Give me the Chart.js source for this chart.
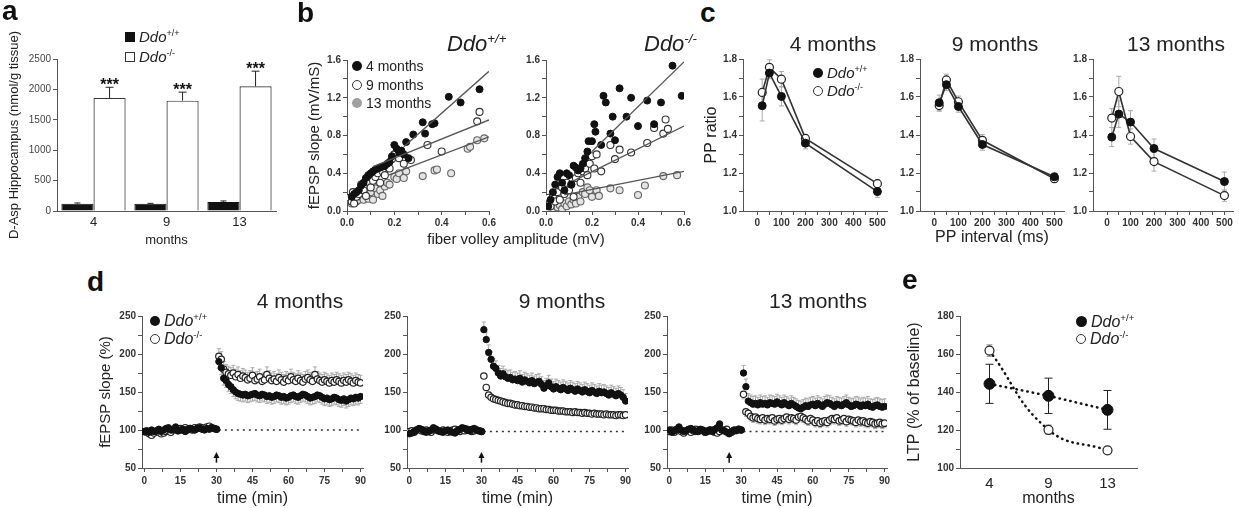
<!DOCTYPE html>
<html>
<head>
<meta charset="utf-8">
<script src="https://cdn.jsdelivr.net/npm/chart.js@4.4.1/dist/chart.umd.min.js"></script>
<style>
  body { margin: 0; background: #fff; }
  #stage { position: relative; width: 1239px; height: 508px; overflow: hidden; font-family: "Liberation Sans", Arial, sans-serif; color: #222; }
  #stage canvas { position: absolute; }
  .txt { position: absolute; white-space: nowrap; line-height: 1; }
  .lbl { font-weight: bold; color: #111; }
  .leg { position: absolute; white-space: nowrap; display: flex; align-items: center; line-height: 1.2; }
  .mk { display: inline-block; box-sizing: border-box; margin-right: 4px; flex: none; }
  sup { font-size: 0.6em; vertical-align: super; line-height: 0; }
</style>
</head>
<body>
<div id="stage"></div>
<script>
// ---- data ----
var ageLabels = ['4', '9', '13'];

// a: D-Asp content
var daspWT = [120, 118, 150];
var daspWTErr = [12, 8, 15];
var daspKO = [1860, 1815, 2050];
var daspKOErr = [175, 140, 250];
var daspStars = ['***', '***', '***'];
var aYTicks = [0, 500, 1000, 1500, 2000, 2500];

// b: input/output, [fiber volley, fEPSP slope]
var bWT4 = [[0.02,0.15],[0.03,0.18],[0.04,0.20],[0.05,0.22],[0.06,0.27],[0.07,0.30],[0.08,0.35],[0.09,0.38],[0.10,0.40],[0.11,0.42],[0.12,0.44],[0.13,0.45],[0.14,0.46],[0.15,0.47],[0.16,0.48],[0.17,0.50],[0.18,0.52],[0.19,0.58],[0.20,0.70],[0.21,0.66],[0.22,0.62],[0.23,0.64],[0.24,0.60],[0.25,0.73],[0.26,0.56],[0.28,0.81],[0.32,0.94],[0.33,0.82],[0.36,0.92],[0.37,0.93],[0.43,1.21],[0.48,1.15],[0.56,1.29]];
var bWT9 = [[0.01,0.14],[0.02,0.10],[0.025,0.20],[0.03,0.08],[0.04,0.15],[0.05,0.18],[0.06,0.28],[0.07,0.22],[0.08,0.16],[0.09,0.30],[0.10,0.25],[0.11,0.32],[0.12,0.36],[0.13,0.40],[0.14,0.30],[0.15,0.42],[0.16,0.38],[0.18,0.45],[0.19,0.55],[0.20,0.60],[0.22,0.56],[0.24,0.50],[0.27,0.54],[0.34,0.70],[0.40,0.63],[0.55,0.95],[0.56,1.05]];
var bWT13 = [[0.01,0.12],[0.02,0.08],[0.03,0.13],[0.04,0.10],[0.05,0.12],[0.06,0.15],[0.07,0.12],[0.08,0.18],[0.09,0.13],[0.10,0.20],[0.11,0.12],[0.12,0.24],[0.13,0.18],[0.14,0.22],[0.15,0.16],[0.16,0.26],[0.17,0.30],[0.18,0.28],[0.20,0.36],[0.21,0.34],[0.22,0.40],[0.24,0.35],[0.25,0.42],[0.32,0.37],[0.37,0.43],[0.38,0.44],[0.44,0.40],[0.51,0.66],[0.52,0.68],[0.55,0.75],[0.58,0.77]];
var bKO4 = [[0.01,0.05],[0.02,0.12],[0.03,0.20],[0.04,0.28],[0.05,0.36],[0.06,0.40],[0.07,0.30],[0.08,0.22],[0.09,0.40],[0.10,0.38],[0.11,0.28],[0.12,0.48],[0.13,0.46],[0.14,0.43],[0.15,0.45],[0.16,0.50],[0.17,0.56],[0.18,0.63],[0.185,0.74],[0.20,0.74],[0.21,0.92],[0.215,0.84],[0.24,0.70],[0.25,1.22],[0.26,1.15],[0.28,0.82],[0.29,1.00],[0.30,0.75],[0.32,1.30],[0.35,1.00],[0.37,1.20],[0.40,0.90],[0.44,1.17],[0.47,0.92],[0.50,1.15],[0.55,1.54],[0.59,1.22]];
var bKO9 = [[0.01,0.14],[0.02,0.05],[0.03,0.15],[0.04,0.10],[0.05,0.20],[0.06,0.12],[0.07,0.25],[0.08,0.18],[0.09,0.30],[0.10,0.22],[0.11,0.28],[0.12,0.15],[0.13,0.35],[0.14,0.40],[0.15,0.30],[0.16,0.42],[0.17,0.45],[0.18,0.38],[0.19,0.50],[0.20,0.58],[0.21,0.45],[0.22,0.60],[0.24,0.42],[0.28,0.70],[0.30,0.55],[0.32,0.65],[0.37,0.62],[0.44,0.72],[0.47,0.88],[0.51,0.82],[0.53,0.87],[0.52,0.97]];
var bKO13 = [[0.01,0.02],[0.02,0.05],[0.03,0.03],[0.04,0.08],[0.05,0.04],[0.06,0.06],[0.07,0.02],[0.08,0.08],[0.09,0.05],[0.10,0.10],[0.11,0.07],[0.12,0.12],[0.13,0.08],[0.14,0.15],[0.15,0.10],[0.16,0.20],[0.17,0.18],[0.18,0.25],[0.19,0.22],[0.20,0.15],[0.22,0.22],[0.23,0.16],[0.28,0.24],[0.32,0.22],[0.40,0.17],[0.43,0.27],[0.51,0.37],[0.57,0.38]];
// regression lines: [x0, y0, x1, y1] for 4, 9, 13 months
var bFitWT = [[0.24, 0.68, 0.60, 1.48], [0.11, 0.47, 0.60, 0.965], [0.175, 0.38, 0.60, 0.785]];
var bFitKO = [[0.20, 0.63, 0.60, 1.58], [0.12, 0.32, 0.60, 0.90], [0.08, 0.17, 0.60, 0.42]];
var bXTicks = [0, 0.1, 0.2, 0.3, 0.4, 0.5, 0.6];
var bYTicks = [0, 0.2, 0.4, 0.6, 0.8, 1.0, 1.2, 1.4, 1.6];

// c: paired-pulse ratio
var ppInterval = [20, 50, 100, 200, 500];
var pp4WT = [1.554, 1.726, 1.603, 1.357, 1.102];
var pp4WTErr = [0.08, 0.03, 0.05, 0.03, 0.03];
var pp4KO = [1.624, 1.756, 1.694, 1.382, 1.144];
var pp4KOErr = [0.07, 0.04, 0.04, 0.02, 0.02];
var pp9WT = [1.57, 1.665, 1.55, 1.35, 1.18];
var pp9WTErr = [0.04, 0.03, 0.03, 0.03, 0.02];
var pp9KO = [1.555, 1.69, 1.575, 1.372, 1.17];
var pp9KOErr = [0.03, 0.03, 0.03, 0.03, 0.02];
var pp13WT = [1.389, 1.51, 1.468, 1.329, 1.155];
var pp13WTErr = [0.05, 0.07, 0.06, 0.05, 0.05];
var pp13KO = [1.489, 1.629, 1.392, 1.26, 1.081];
var pp13KOErr = [0.05, 0.08, 0.04, 0.05, 0.03];
var cXTicks = [0, 50, 100, 150, 200, 250, 300, 350, 400, 450, 500];
var cYTicks = [1.0, 1.1, 1.2, 1.3, 1.4, 1.5, 1.6, 1.7, 1.8];

// d: LTP time course, one value per minute (0..90)
var minutes = [0,1,2,3,4,5,6,7,8,9,10,11,12,13,14,15,16,17,18,19,20,21,22,23,24,25,26,27,28,29,30,
  31,32,33,34,35,36,37,38,39,40,41,42,43,44,45,46,47,48,49,50,51,52,53,54,55,56,57,58,59,60,
  61,62,63,64,65,66,67,68,69,70,71,72,73,74,75,76,77,78,79,80,81,82,83,84,85,86,87,88,89,90];
var ltp4WT = [98,99,97,100,98,99,101,98,100,102,
  103,100,101,104,99,100,101,98,100,102,
  101,100,102,103,101,100,102,101,103,102,
  101,190,182,168,165,160,157,153,150,148,
  147,146,147,145,146,147,148,146,145,147,
  146,144,145,143,144,146,145,143,144,142,
  143,145,146,144,143,145,147,146,144,142,
  143,144,146,145,143,141,142,140,141,143,
  142,140,139,141,138,140,142,141,143,142,
  144];
var ltp4KO = [98,97,95,93,96,98,97,95,96,98,
  99,97,100,101,99,102,100,103,101,102,
  100,103,102,104,103,101,104,105,103,102,
  101,197,193,180,176,174,172,175,170,173,
  168,171,169,166,168,172,165,167,170,164,
  166,173,168,165,167,164,169,166,163,167,
  165,170,166,164,168,165,163,167,169,166,
  164,173,167,165,163,166,164,162,165,163,
  166,164,162,165,163,166,164,162,165,163,
  162];
var ltp9WT = [95,96,98,100,102,101,99,97,98,100,
  103,101,99,98,97,99,100,98,97,96,
  99,101,103,102,100,99,101,102,100,99,
  98,232,219,202,193,184,181,175,171,174,
  170,168,169,166,167,165,168,163,166,164,
  162,165,161,163,164,160,155,158,162,157,
  154,157,155,153,156,154,152,155,153,151,
  154,152,150,153,151,149,152,150,148,151,
  149,150,148,146,149,147,145,148,146,143,
  138];
var ltp9KO = [98,99,97,100,101,99,98,100,99,97,
  100,101,99,98,100,99,97,98,100,101,
  99,98,100,99,101,100,98,99,100,99,
  98,171,156,146,143,141,140,139,138,137,
  136,135,135,134,133,133,132,132,131,131,
  130,130,129,129,128,128,128,127,127,126,
  126,126,125,125,125,124,124,124,123,124,
  123,123,122,123,122,122,121,122,121,121,
  121,120,121,120,120,120,119,120,120,119,
  120];
var ltp13WT = [100,97,99,101,104,100,98,99,101,102,
  100,98,99,101,100,97,99,100,98,101,
  103,108,100,99,97,95,98,100,99,101,
  100,175,157,138,136,134,135,133,136,134,
  135,133,136,135,134,137,135,133,136,134,
  132,135,133,131,129,128,130,132,131,133,
  134,132,135,133,131,134,136,135,133,131,
  134,133,132,134,136,133,131,132,134,133,
  131,133,132,134,131,130,132,133,131,130,
  131];
var ltp13KO = [98,100,97,99,101,98,96,99,100,97,
  99,101,98,100,99,97,98,100,99,97,
  96,98,100,99,101,96,97,99,100,101,
  100,147,124,122,118,116,117,115,114,116,
  113,115,114,116,112,114,115,113,115,117,
  114,116,115,113,117,118,116,114,112,115,
  113,110,112,109,111,112,110,113,115,114,
  116,112,113,115,111,114,113,112,110,113,
  111,112,110,109,111,110,108,109,110,108,
  109];
var tetanusAt = [30, 30, 25];
var baselineRef = [100, 98, 98];
var refSpan = [31, 90];
var dXTicks = [0, 7.5, 15, 22.5, 30, 37.5, 45, 52.5, 60, 67.5, 75, 82.5, 90];
var dYTicks = [50, 75, 100, 125, 150, 175, 200, 225, 250];

// e: LTP magnitude by age
var ltpMeanWT = [144.3, 138.0, 130.6];
var ltpMeanWTErr = [10.3, 9.3, 10.2];
var ltpMeanKO = [161.8, 120.1, 109.3];
var ltpMeanKOErr = [3.0, 2.5, 1.5];
var eYTicks = [100, 110, 120, 130, 140, 150, 160, 170, 180];

// ---- helpers ----
var stage = document.getElementById('stage');
var FONT = '"Liberation Sans", Arial, sans-serif';
var AX = '#555';
Chart.defaults.font.family = FONT;
Chart.defaults.color = '#333';

function frame(area, m) {
    var c = document.createElement('canvas');
    c.width = area.r - area.l + m.l + m.r;
    c.height = area.b - area.t + m.t + m.b;
    c.style.left = (area.l - m.l) + 'px';
    c.style.top = (area.t - m.t) + 'px';
    stage.appendChild(c);
    return c;
}

// force the axis box size so every plot area lands where the figure has it
function fit(size) {
    return function (scale) {
        if (scale.isHorizontal()) scale.height = size; else scale.width = size;
        scale.paddingLeft = scale.paddingRight = scale.paddingTop = scale.paddingBottom = 0;
    };
}

function every(step, digits) {
    return function (v) {
        var k = v / step;
        return Math.abs(k - Math.round(k)) < 1e-6 ? v.toFixed(digits) : '';
    };
}

function axis(o) {
    var a = {
        type: o.type || 'linear',
        afterFit: fit(o.box),
        border: { color: AX, width: 1 },
        grid: { drawOnChartArea: false, drawTicks: o.drawTicks !== false, tickLength: 4, color: AX },
        ticks: {
            color: o.color || '#333', padding: o.pad == null ? 2 : o.pad, autoSkip: false, maxRotation: 0,
            font: { family: FONT, size: o.fontSize || 10, weight: o.bold === false ? 'normal' : 'bold' }
        },
        title: { display: !!o.title, text: o.title || '', color: '#222', padding: 0, font: { family: FONT, size: o.titleSize || 16 } }
    };
    if (o.min != null) a.min = o.min;
    if (o.max != null) a.max = o.max;
    if (o.offset != null) a.offset = o.offset;
    if (o.ticks) a.afterBuildTicks = function (s) { s.ticks = o.ticks.map(function (v) { return { value: v }; }); };
    if (o.label) a.ticks.callback = o.label;
    return a;
}

function options(m, scales, plugins) {
    return {
        responsive: false,
        animation: false,
        events: [],
        layout: { padding: { left: 0, bottom: 0, top: m.t, right: m.r } },
        plugins: Object.assign({ legend: { display: false }, tooltip: { enabled: false } }, plugins || {}),
        scales: scales
    };
}

function xy(xs, ys) {
    return xs.map(function (x, i) { return { x: x, y: ys[i] }; });
}
function pairs(list) {
    return list.map(function (p) { return { x: p[0], y: p[1] }; });
}

function wtStyle(r) {
    return { pointRadius: r, pointBackgroundColor: '#111', pointBorderColor: '#111', pointBorderWidth: 1 };
}
function koStyle(r) {
    return { pointRadius: r, pointBackgroundColor: '#fff', pointBorderColor: '#222', pointBorderWidth: 1.2 };
}

// vertical SEM bars from dataset.err (array or single number)
var errorBars = {
    id: 'errorBars',
    beforeDatasetsDraw: function (chart) {
        var ctx = chart.ctx;
        chart.data.datasets.forEach(function (ds, i) {
            if (ds.err == null) return;
            var meta = chart.getDatasetMeta(i);
            var ys = chart.scales[meta.yAxisID];
            ctx.save();
            ctx.strokeStyle = ds.errColor || '#999';
            ctx.lineWidth = 1;
            meta.data.forEach(function (el, j) {
                if (ds.errFrom && j < ds.errFrom) return;
                var e = Array.isArray(ds.err) ? ds.err[j] : ds.err;
                var raw = ds.data[j];
                var v = typeof raw === 'object' ? raw.y : raw;
                var top = ys.getPixelForValue(v + (ds.errDir === 'down' ? 0 : e));
                var bot = ys.getPixelForValue(v - (ds.errDir === 'up' ? 0 : e));
                var cw = ds.capWidth || 3;
                ctx.beginPath();
                ctx.moveTo(el.x, top); ctx.lineTo(el.x, bot);
                if (ds.errDir !== 'down') { ctx.moveTo(el.x - cw, top); ctx.lineTo(el.x + cw, top); }
                if (ds.errDir !== 'up') { ctx.moveTo(el.x - cw, bot); ctx.lineTo(el.x + cw, bot); }
                ctx.stroke();
            });
            ctx.restore();
        });
    }
};

var stars = {
    id: 'stars',
    afterDatasetsDraw: function (chart, args, o) {
        var ds = chart.data.datasets[o.dataset];
        var meta = chart.getDatasetMeta(o.dataset);
        var ctx = chart.ctx;
        ctx.save();
        ctx.fillStyle = '#111';
        ctx.font = 'bold 16px ' + FONT;
        ctx.textAlign = 'center';
        ctx.textBaseline = 'alphabetic';
        meta.data.forEach(function (el, j) {
            var y = chart.scales.y.getPixelForValue(ds.data[j] + ds.err[j]);
            ctx.fillText(o.labels[j], el.x, y + 3);
        });
        ctx.restore();
    }
};

var tetanusArrow = {
    id: 'tetanus',
    afterDatasetsDraw: function (chart, args, o) {
        var ctx = chart.ctx;
        var x = chart.scales.x.getPixelForValue(o.at);
        var y1 = chart.scales.y.getPixelForValue(57);
        var y2 = chart.scales.y.getPixelForValue(71);
        ctx.save();
        ctx.strokeStyle = '#111';
        ctx.fillStyle = '#111';
        ctx.lineWidth = 1.5;
        ctx.beginPath();
        ctx.moveTo(x, y1); ctx.lineTo(x, y2 + 4);
        ctx.stroke();
        ctx.beginPath();
        ctx.moveTo(x, y2); ctx.lineTo(x - 3, y2 + 6); ctx.lineTo(x + 3, y2 + 6); ctx.closePath();
        ctx.fill();
        ctx.restore();
    }
};

function addText(html, x, base, size, cls, center) {
    var d = document.createElement('div');
    d.className = 'txt ' + (cls || '');
    d.style.fontSize = size + 'px';
    d.style.top = (base - 0.85 * size) + 'px';
    d.style.left = x + 'px';
    if (center) d.style.transform = 'translateX(-50%)';
    d.innerHTML = html;
    stage.appendChild(d);
}

function addLegend(x, cy, mark, html, size, italic) {
    var d = document.createElement('div');
    d.className = 'leg';
    d.style.left = x + 'px';
    d.style.top = (cy - size * 0.6) + 'px';
    d.style.height = (size * 1.2) + 'px';
    d.style.fontSize = size + 'px';
    if (italic) d.style.fontStyle = 'italic';
    d.innerHTML = '<span class="mk" style="' + mark + '"></span><span>' + html + '</span>';
    stage.appendChild(d);
}

var WT = '<i>Ddo</i><sup>+/+</sup>';
var KO = '<i>Ddo</i><sup>-/-</sup>';
var dotWT = 'width:10px;height:10px;border-radius:50%;background:#111';
var dotKO = 'width:10px;height:10px;border-radius:50%;background:#fff;border:1.3px solid #333';

// ---- a: bars ----
var aM = { l: 50, t: 42, r: 8, b: 37 };
new Chart(frame({ l: 57, t: 59, r: 276, b: 211 }, aM), {
    type: 'bar',
    data: {
        labels: ageLabels,
        datasets: [
            { data: daspWT, err: daspWTErr, errDir: 'up', errColor: '#222', capWidth: 3,
              backgroundColor: '#111', borderColor: '#111', borderWidth: 1, categoryPercentage: 0.88, barPercentage: 1 },
            { data: daspKO, err: daspKOErr, errDir: 'up', errColor: '#222', capWidth: 4,
              backgroundColor: '#fff', borderColor: '#333', borderWidth: 1.2, categoryPercentage: 0.88, barPercentage: 1 }
        ]
    },
    options: options(aM, {
        x: axis({ type: 'category', box: aM.b, fontSize: 13, bold: false, drawTicks: false, pad: 4, color: '#222', title: 'months', titleSize: 13 }),
        y: axis({ box: aM.l, min: 0, max: 2500, ticks: aYTicks, fontSize: 10, bold: false, color: '#444',
                  label: function (v) { return String(v); }, title: 'D-Asp Hippocampus (nmol/g tissue)', titleSize: 13 })
    }, { stars: { labels: daspStars, dataset: 1 } }),
    plugins: [errorBars, stars]
});

// ---- b: input/output ----
function ioChart(area, m, s4, s9, s13, fits, yTitle) {
    var lines = fits.map(function (f) {
        return { data: [{ x: f[0], y: f[1] }, { x: f[2], y: f[3] }], showLine: true, pointRadius: 0,
                 borderColor: '#555', borderWidth: 1.3 };
    });
    new Chart(frame(area, m), {
        type: 'scatter',
        data: {
            datasets: lines.concat([
                Object.assign({ data: pairs(s4) }, wtStyle(3.5)),
                { data: pairs(s9), pointRadius: 3.5, pointBackgroundColor: '#fff', pointBorderColor: '#333', pointBorderWidth: 1.1 },
                { data: pairs(s13), pointRadius: 3.5, pointBackgroundColor: '#e4e4e4', pointBorderColor: '#666', pointBorderWidth: 1.1 }
            ])
        },
        options: options(m, {
            x: axis({ box: m.b, min: 0, max: 0.6, ticks: bXTicks, label: every(0.2, 1) }),
            y: axis({ box: m.l, min: 0, max: 1.6, ticks: bYTicks, label: every(0.4, 1), title: yTitle, titleSize: 15 })
        })
    });
}
ioChart({ l: 347, t: 60, r: 489, b: 211 }, { l: 41, t: 8, r: 10, b: 20 }, bWT4, bWT9, bWT13, bFitWT, 'fEPSP slope (mV/mS)');
ioChart({ l: 546, t: 60, r: 684, b: 211 }, { l: 35, t: 8, r: 10, b: 20 }, bKO4, bKO9, bKO13, bFitKO, '');

// ---- c: paired-pulse ----
function ppChart(area, m, wt, wtErr, ko, koErr, yTitle, xTitle) {
    new Chart(frame(area, m), {
        type: 'scatter',
        data: {
            datasets: [
                Object.assign({ data: xy(ppInterval, wt), showLine: true, borderColor: '#333', borderWidth: 1.6,
                                err: wtErr, errColor: '#aaa', capWidth: 2.5 }, wtStyle(4)),
                Object.assign({ data: xy(ppInterval, ko), showLine: true, borderColor: '#333', borderWidth: 1.6,
                                err: koErr, errColor: '#aaa', capWidth: 2.5 }, koStyle(4))
            ]
        },
        options: options(m, {
            x: axis({ box: m.b, min: -60, max: 540, ticks: cXTicks, label: every(100, 0), title: xTitle }),
            y: axis({ box: m.l, min: 1.0, max: 1.8, ticks: cYTicks, label: every(0.2, 1), title: yTitle })
        }),
        plugins: [errorBars]
    });
}
ppChart({ l: 743, t: 59, r: 887, b: 211 }, { l: 41, t: 8, r: 8, b: 20 }, pp4WT, pp4WTErr, pp4KO, pp4KOErr, 'PP ratio', '');
ppChart({ l: 920, t: 59, r: 1064, b: 211 }, { l: 35, t: 8, r: 8, b: 36 }, pp9WT, pp9WTErr, pp9KO, pp9KOErr, '', 'PP interval (ms)');
ppChart({ l: 1093, t: 59, r: 1238, b: 211 }, { l: 35, t: 8, r: 1, b: 20 }, pp13WT, pp13WTErr, pp13KO, pp13KOErr, '', '');

// ---- d: LTP time course ----
function ltpChart(k, area, m, wt, wtErr, wtDir, ko, koErr, koDir, yTitle) {
    new Chart(frame(area, m), {
        type: 'scatter',
        data: {
            datasets: [
                Object.assign({ data: xy(minutes, wt), err: wtErr, errDir: wtDir, errFrom: 31, errColor: '#aaa', capWidth: 2 }, wtStyle(3.2)),
                Object.assign({ data: xy(minutes, ko), err: koErr, errDir: koDir, errFrom: 31, errColor: '#aaa', capWidth: 2 }, koStyle(3.2)),
                { data: [{ x: refSpan[0], y: baselineRef[k] }, { x: refSpan[1], y: baselineRef[k] }], showLine: true,
                  pointRadius: 0, borderColor: '#333', borderWidth: 1.5, borderDash: [2, 4] }
            ]
        },
        options: options(m, {
            x: axis({ box: m.b, min: -1, max: 91, ticks: dXTicks, label: every(15, 0), pad: 3, title: 'time (min)' }),
            y: axis({ box: m.l, min: 50, max: 250, ticks: dYTicks, label: every(50, 0), title: yTitle, titleSize: 15 })
        }, { tetanus: { at: tetanusAt[k] } }),
        plugins: [errorBars, tetanusArrow]
    });
}
ltpChart(0, { l: 142, t: 316, r: 363, b: 468 }, { l: 45, t: 8, r: 8, b: 40 }, ltp4WT, 9, 'down', ltp4KO, 10, 'up', 'fEPSP slope (%)');
ltpChart(1, { l: 407, t: 316, r: 628, b: 468 }, { l: 35, t: 8, r: 8, b: 40 }, ltp9WT, 10, 'up', ltp9KO, 3, 'down', '');
ltpChart(2, { l: 667, t: 316, r: 887, b: 468 }, { l: 35, t: 8, r: 8, b: 40 }, ltp13WT, 10, 'up', ltp13KO, 6, 'down', '');

// ---- e: LTP vs age ----
var eM = { l: 55, t: 8, r: 8, b: 40 };
new Chart(frame({ l: 960, t: 316, r: 1137, b: 468 }, eM), {
    type: 'line',
    data: {
        labels: ageLabels,
        datasets: [
            Object.assign({ data: ltpMeanWT, err: ltpMeanWTErr, errColor: '#222', capWidth: 4,
                            borderColor: '#111', borderWidth: 2.5, borderDash: [0.5, 5], borderCapStyle: 'round', tension: 0 }, wtStyle(5.5)),
            Object.assign({ data: ltpMeanKO, err: ltpMeanKOErr, errColor: '#888', capWidth: 3,
                            borderColor: '#111', borderWidth: 2.5, borderDash: [0.5, 5], borderCapStyle: 'round', tension: 0.45 }, koStyle(4.5))
        ]
    },
    options: options(eM, {
        x: axis({ type: 'category', offset: true, box: eM.b, fontSize: 15, bold: false, drawTicks: false, pad: 7, color: '#222', title: 'months' }),
        y: axis({ box: eM.l, min: 100, max: 180, ticks: eYTicks, label: every(20, 0), title: 'LTP (% of baseline)' })
    }),
    plugins: [errorBars]
});

// ---- text: panel letters, titles, legends ----
addText('a', 2, 21, 28, 'lbl');
addText('b', 297, 23, 28, 'lbl');
addText('c', 700, 23, 28, 'lbl');
addText('d', 87, 292, 28, 'lbl');
addText('e', 902, 290, 28, 'lbl');

addText('<i>Ddo<sup>+/+</sup></i>', 447, 52, 22);
addText('<i>Ddo<sup>-/-</sup></i>', 644, 52, 22);
addText('fiber volley amplitude (mV)', 516, 244, 15, '', true);

addText('4 months', 833, 51, 21, '', true);
addText('9 months', 995, 51, 21, '', true);
addText('13 months', 1176, 51, 21, '', true);
addText('4 months', 300, 308, 21, '', true);
addText('9 months', 562, 308, 21, '', true);
addText('13 months', 818, 308, 21, '', true);

addLegend(125, 37, 'width:10px;height:10px;background:#111', WT, 15, false);
addLegend(125, 57, 'width:10px;height:10px;background:#fff;border:1px solid #333', KO, 15, false);

addLegend(352, 66, dotWT, '4 months', 14, false);
addLegend(352, 85, dotKO, '9 months', 14, false);
addLegend(352, 103, 'width:10px;height:10px;border-radius:50%;background:#a0a0a0', '13 months', 14, false);

addLegend(813, 73, dotWT, WT, 15, false);
addLegend(813, 91, dotKO, KO, 15, false);

addLegend(150, 321, dotWT, WT, 16, false);
addLegend(150, 339, dotKO, KO, 16, false);

addLegend(1076, 322, 'width:11px;height:11px;border-radius:50%;background:#111', WT, 16, false);
addLegend(1076, 339, dotKO, KO, 16, false);
</script>
</body>
</html>
